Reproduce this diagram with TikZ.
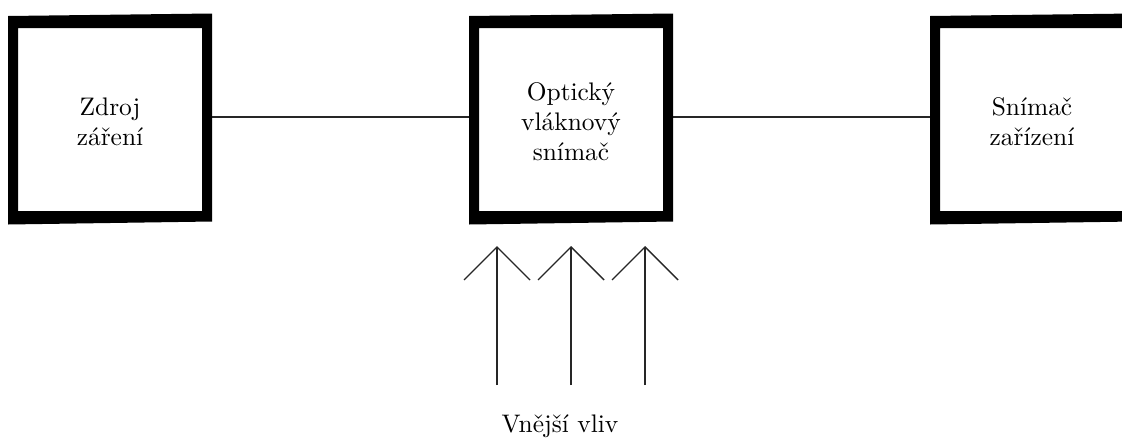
\documentclass[tikz,border=0pt]{standalone}
\usetikzlibrary{arrows.meta}
\tikzset{
  blockarea/.style={rectangle,draw=none,inner sep=0pt,outer sep=0pt,minimum width=204pt,minimum height=190pt},
  blocklabel/.style={align=center,scale=2.54,transform shape,font=\linespread{0.98}\selectfont},
  wire/.style={line width=1.4pt,draw=black!85},
  influence/.style={line width=1.4pt,draw=black!85,-{Straight Barb[length=33pt,width=66pt,line width=1.4pt]}},
  frameblack/.style={fill=black,even odd rule}
}
\newcommand{\blockframe}[1]{%
  \begin{scope}[shift={(#1.center)}]
    \path[frameblack] (-102,-101) -- (102,-103.5) -- (102,104.5) -- (-102,107.5) -- cycle
      (-92,-89) rectangle (92,94);
  \end{scope}}
\begin{document}
\begin{tikzpicture}[x=1pt,y=-1pt]
  \useasboundingbox (0,0) rectangle (1122,437);
  \clip (0,0) rectangle (1122,437);
  \fill[white] (0,0) rectangle (1122,437);
  \node[blockarea] (a) at (110,117) {};
  \node[blockarea] (b) at (571,117) {};
  \node[blockarea] (c) at (1032,117) {};
  \draw[wire] (a) -- (b);
  \draw[wire] (b) -- (c);
  \blockframe{a}
  \blockframe{b}
  \blockframe{c}
  \node[blocklabel] (la) at (110,122) {Zdroj\\záření};
  \node[blocklabel] (lb) at (571,122) {Optický\\vláknový\\snímač};
  \node[blocklabel] (lc) at (1032,122) {Snímač\\zařízení};
  \coordinate (t1) at (497,385); \coordinate (h1) at (497,246);
  \coordinate (t2) at (571,385); \coordinate (h2) at (571,246);
  \coordinate (t3) at (645,385); \coordinate (h3) at (645,246);
  \draw[influence] (t1) -- (h1);
  \draw[influence] (t2) -- (h2);
  \draw[influence] (t3) -- (h3);
  \node[blocklabel,anchor=base] (lv) at (560,432.5) {Vnější vliv};
\end{tikzpicture}
\end{document}
